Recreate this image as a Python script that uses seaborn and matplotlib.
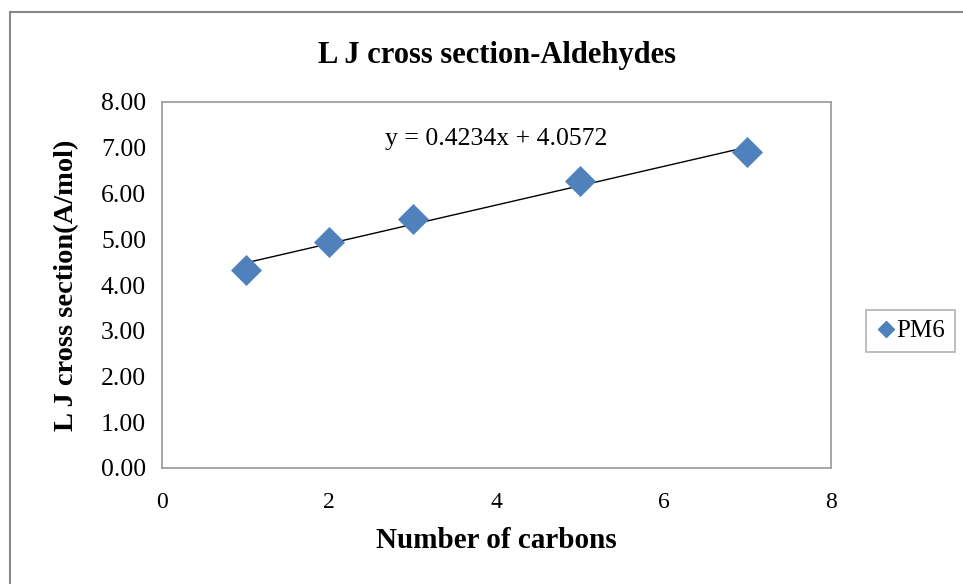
import matplotlib
matplotlib.use("Agg")
import matplotlib.pyplot as plt
import seaborn as sns
import pandas as pd
from matplotlib.patches import Rectangle
from matplotlib.lines import Line2D

# Data
carbons = [1, 2, 3, 5, 7]
lj_cross_section = [4.33, 4.95, 5.45, 6.27, 6.90]
series_name = "PM6"
title = "L J cross section-Aldehydes"
x_label = "Number of carbons"
y_label = "L J cross section(A/mol)"
equation = "y = 0.4234x + 4.0572"
x_ticks = [0, 2, 4, 6, 8]
y_ticks = [0, 1, 2, 3, 4, 5, 6, 7, 8]

df = pd.DataFrame({"x": carbons, "y": lj_cross_section})

sns.set_theme(style="white")
plt.rcParams["font.family"] = ["Liberation Serif", "DejaVu Serif"]
plt.rcParams["text.color"] = "black"
plt.rcParams["axes.labelcolor"] = "black"
plt.rcParams["xtick.labelcolor"] = "black"
plt.rcParams["ytick.labelcolor"] = "black"

fig = plt.figure(figsize=(9.63, 5.84), dpi=100)
ax = fig.add_axes([162 / 963, 1 - 468 / 584, (831 - 162) / 963, (468 - 102) / 584])

blue = "#4F81BD"
grey = "#A0A0A0"

# trendline
sns.regplot(data=df, x="x", y="y", ax=ax, scatter=False, ci=None, truncate=True,
            color="black", line_kws={"linewidth": 1.0, "zorder": 2})
# points
sns.scatterplot(data=df, x="x", y="y", ax=ax, marker="D", s=250, color=blue,
                edgecolor=blue, linewidth=0, zorder=3, legend=False)

ax.set_xlim(0, 8)
ax.set_ylim(0, 8)
ax.set_xticks(x_ticks)
ax.set_yticks(y_ticks)
ax.set_xticklabels([str(t) for t in x_ticks], fontsize=17)
ax.set_yticklabels([f"{t:.2f}" for t in y_ticks], fontsize=18.5)
ax.tick_params(axis="both", direction="inout", length=11, width=1, color=grey,
               labelcolor="black")
ax.tick_params(axis="x", pad=12)
ax.tick_params(axis="y", pad=6)
for s in ax.spines.values():
    s.set_visible(True)
    s.set_color(grey)
    s.set_linewidth(1.3)

ax.set_xlabel(x_label, fontsize=21, fontweight="bold", labelpad=10, color="black")
ax.set_ylabel(y_label, fontsize=20.5, fontweight="bold", labelpad=16, color="black")
ax.set_title(title, fontsize=22, fontweight="bold", pad=28, color="black")

ax.text(4, 7.2, equation, fontsize=18.5, ha="center", va="center", color="black")

handle = Line2D([], [], marker="D", linestyle="none", color=blue, markersize=8.5)
leg = fig.legend([handle], [series_name], loc="center left",
                 bbox_to_anchor=(866 / 963, 1 - 331 / 584), fontsize=18,
                 frameon=True, fancybox=False, handletextpad=0.0,
                 borderpad=0.4, handlelength=0.8, borderaxespad=0)
leg.get_frame().set_edgecolor(grey)
leg.get_frame().set_linewidth(1.2)
for t in leg.get_texts():
    t.set_color("black")

# outer chart border
fig.patches.append(Rectangle((10 / 963, -0.05), 1.0, 1 - 12 / 584 + 0.05,
                             transform=fig.transFigure, fill=False,
                             edgecolor="#888888", linewidth=1.5))

fig.savefig("out.png", dpi=100)
